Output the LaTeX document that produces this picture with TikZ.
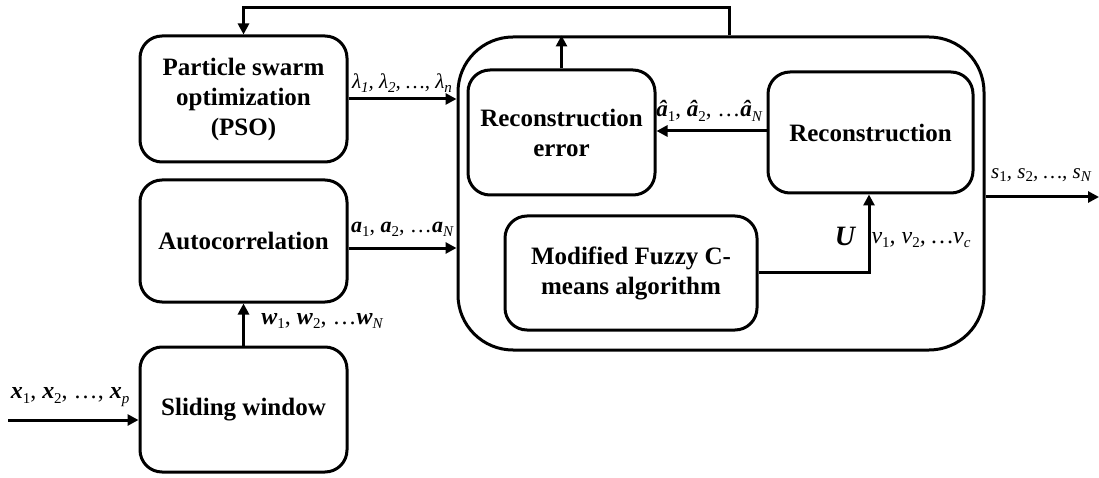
\documentclass[tikz,border=0pt]{standalone}
\usepackage{fontspec}
\setmainfont{Liberation Serif}
\usetikzlibrary{arrows.meta}
\newcommand{\lsub}[1]{\raisebox{-0.4ex}{\fontsize{15}{15}\selectfont\mdseries #1}}
\newcommand{\bi}[1]{{\bfseries\itshape #1}}
\begin{document}
\begin{tikzpicture}[x=1pt,y=-1pt,
  box/.style={draw, line width=3pt, rounded corners=22pt, align=center, inner sep=0pt,
    font=\bfseries\fontsize{25}{30}\selectfont},
  arr/.style={line width=3pt, -{Triangle[length=11pt,width=11pt]}},
  lab/.style={inner sep=0pt, font=\fontsize{23}{25}\selectfont}]
\useasboundingbox (0,0) rectangle (1099,478);
\node[box, minimum width=207pt, minimum height=126pt] (pso) at (243.5,99) {Particle swarm\\optimization\\(PSO)};
\node[box, minimum width=207pt, minimum height=122pt] (auto) at (243.5,241) {Autocorrelation};
\node[box, minimum width=207pt, minimum height=125pt] (slide) at (243.5,409.5) {Sliding window};
\node[box, rounded corners=55pt, minimum width=526pt, minimum height=313pt] (big) at (721,193.5) {};
\node[box, minimum width=187pt, minimum height=125pt] (recerr) at (561.5,132.5) {Reconstruction\\error};
\node[box, minimum width=205pt, minimum height=121pt] (rec) at (870.5,132.5) {Reconstruction};
\node[box, minimum width=252pt, minimum height=114pt] (fuzzy) at (631,273) {Modified Fuzzy C-\\means algorithm};
\coordinate (in) at (8,420);
\coordinate (out) at (1099,197);
\coordinate (fb) at (729,8);
\coordinate (vup) at (869,272);
% connectors
\draw[arr] (pso.east) -- (pso.east -| big.west);
\draw[arr] ([yshift=-7pt]auto.east) -- ([yshift=-7pt]auto.east -| big.west);
\draw[arr] (slide.north) -- (auto.south);
\draw[arr] (in) -- (in -| slide.west);
\draw[arr] ([yshift=1.5pt]rec.west) -- ([yshift=1.5pt]rec.west -| recerr.east);
\draw[arr] (recerr.north) -- (recerr.north |- big.north);
\draw[arr] (fuzzy.east |- vup) -- (vup) -- (vup |- rec.south);
\draw[arr] (big.east |- out) -- (out);
\draw[arr] (fb |- big.north) -- (fb) -| (pso.north);
% labels
\node[lab, font=\fontsize{21}{23}\selectfont] (llam) at (402,83) {\itshape λ\lsub{1}, λ\lsub{2}, …, λ\lsub{\itshape n}};
\node[lab, font=\fontsize{22}{24}\selectfont] (la) at (402,229) {\bi{a}\lsub{1}, \bi{a}\lsub{2}, …\bi{a}\lsub{\itshape N}};
\node[lab, font=\fontsize{24}{26}\selectfont] (lw) at (322,321) {\bi{w}\lsub{1}, \bi{w}\lsub{2}, …\bi{w}\lsub{\itshape N}};
\node[lab, font=\fontsize{24}{26}\selectfont] (lx) at (70,397) {\bi{x}\lsub{1}, \bi{x}\lsub{2}, …, \bi{x}\lsub{\itshape p}};
\node[lab] (lah) at (709,111) {\bi{â}\lsub{1}, \bi{â}\lsub{2}, …\bi{â}\lsub{\itshape N}};
\node[lab, font=\fontsize{28}{30}\selectfont] (lU) at (845,236) {\bi{U}};
\node[lab, font=\fontsize{24}{26}\selectfont] (lv) at (921,240) {\itshape v\lsub{\upshape 1}, v\lsub{\upshape 2}, …v\lsub{c}};
\node[lab, font=\fontsize{21}{23}\selectfont] (ls) at (1041,175) {\itshape s\lsub{\upshape 1}, s\lsub{\upshape 2}, …, s\lsub{\itshape N}};
\end{tikzpicture}
\end{document}
